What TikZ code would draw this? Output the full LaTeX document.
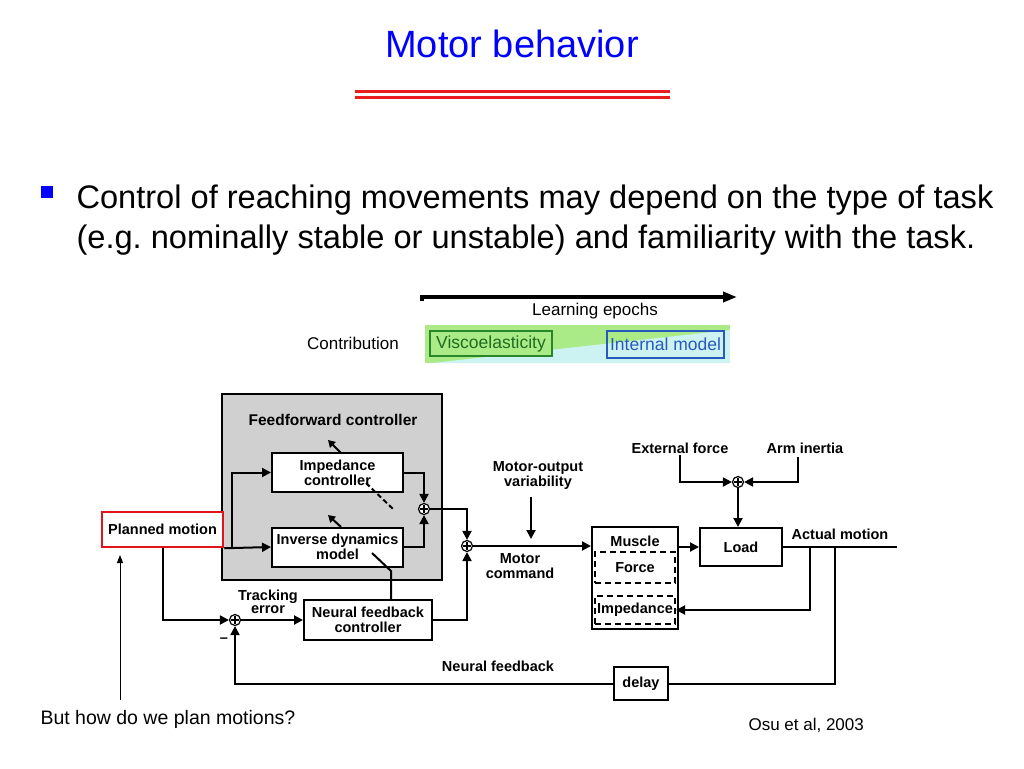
\documentclass[tikz,border=0pt]{standalone}
\usepackage{fontspec}
\setmainfont{Liberation Sans}
\usetikzlibrary{arrows.meta,positioning,calc}

\definecolor{titleblue}{RGB}{0,0,255}
\definecolor{rulered}{RGB}{230,30,30}
\definecolor{planred}{RGB}{225,20,25}
\definecolor{ffgray}{RGB}{208,208,208}
\definecolor{viscogreen}{RGB}{40,135,40}
\definecolor{intblue}{RGB}{40,90,190}
\definecolor{bargreen}{RGB}{170,235,135}
\definecolor{barcyan}{RGB}{205,242,242}

\newcommand{\diagfont}{\fontsize{14.5}{15}\selectfont\bfseries}

\tikzset{
  blk/.style={draw, line width=2, fill=white, inner sep=0, align=center, font=\diagfont},
  dashblk/.style={draw, line width=2, dash pattern=on 6pt off 4pt, inner sep=0, font=\diagfont},
  lbl/.style={font=\diagfont, align=center, inner sep=1},
  sumpt/.style={circle, draw, line width=1.2, fill=white, minimum size=11, inner sep=0,
    path picture={\draw[line width=1.2]
      ([xshift=-4pt]path picture bounding box.center) -- ([xshift=4pt]path picture bounding box.center)
      ([yshift=-4pt]path picture bounding box.center) -- ([yshift=4pt]path picture bounding box.center);}},
  wire/.style={line width=2, -{Triangle[length=9pt,width=9pt]}},
  tune/.style={line width=2, -{Triangle[length=7pt,width=8pt]}},
}

\begin{document}
\begin{tikzpicture}[x=1pt, y=-1pt]
    \useasboundingbox (0,0) rectangle (1024,768);

    % Title
    \node[anchor=base, text=titleblue, font=\fontsize{38}{40}\selectfont] (title) at (512,57) {Motor behavior};
    \draw[rulered, line width=3] (355,91) -- (670,91);
    \draw[rulered, line width=3] (355,97) -- (670,97);

    % Bullet point
    \node[fill=titleblue, minimum size=12, inner sep=0] (bullet) at (47,192) {};
    \node[anchor=base west, font=\fontsize{32.6}{40}\selectfont] (line1) at (73,208) {Control of reaching movements may depend on the type of task};
    \node[anchor=base west, font=\fontsize{32.6}{40}\selectfont] (line2) at (73,248) {(e.g.\ nominally stable or unstable) and familiarity with the task.};

    % Learning epochs
    \coordinate (epochstart) at (422,297);
    \coordinate (epochend) at (737,297);
    \draw[line width=4, -{Triangle[length=14pt,width=10pt]}] ([yshift=-4pt]epochstart) -- (epochstart) -- (epochend);
    \node[font=\fontsize{17}{18}\selectfont] (epochs) at (595,311) {Learning epochs};
    \node[font=\fontsize{17}{18}\selectfont] (contrib) at (353,343) {Contribution};
    \fill[bargreen] (425,325) rectangle (730,363);
    \fill[barcyan] (432,363) -- (730,363) -- (730,330) -- cycle;
    \node[draw=viscogreen, line width=1.5, text=viscogreen!80!black, fill=bargreen, minimum width=122, minimum height=25, inner sep=0, font=\fontsize{17.5}{18}\selectfont] (visco) at (491,343.5) {Viscoelasticity};
    \node[draw=intblue, line width=1.5, text=intblue, minimum width=117, minimum height=27, inner sep=0, font=\fontsize{17.5}{18}\selectfont] (intmodel) at (665.5,344.5) {Internal model};

    % Feedforward controller
    \node[draw, line width=2.5, fill=ffgray, minimum width=220, minimum height=186] (ffbox) at (332,487) {};
    \node[font=\fontsize{15.5}{16}\selectfont\bfseries] (fftitle) at (333,420) {Feedforward controller};
    \node[blk, minimum width=131, minimum height=39] (imp) at (337.5,472.5) {Impedance\\controller};
    \node[blk, minimum width=131, minimum height=39] (invdyn) at (337.5,547) {Inverse dynamics\\model};

    % Blocks
    \node[draw=planred, line width=2.5, fill=white, minimum width=121, minimum height=35, inner sep=0, font=\diagfont] (plan) at (162.5,529.5) {Planned motion};
    \node[blk, minimum width=128, minimum height=40] (nfb) at (368,620) {Neural feedback\\controller};
    \node[blk, minimum width=86, minimum height=102] (muscle) at (635,578) {};
    \node[font=\diagfont] (musclelbl) at (635,541) {Muscle};
    \node[dashblk, minimum width=80, minimum height=31] (force) at (635,567.5) {Force};
    \node[dashblk, minimum width=80, minimum height=28] (impd) at (635,610) {Impedance};
    \node[blk, minimum width=82, minimum height=38] (load) at (741,547) {Load};
    \node[blk, minimum width=54, minimum height=33] (delay) at (641,683.5) {delay};

    % Summing points
    \node[sumpt] (sumff) at (424,509) {};
    \node[sumpt] (summc) at (467,546) {};
    \node[sumpt] (sumtrk) at (235,620) {};
    \node[sumpt] (sumload) at (738,482) {};

    % Labels
    \node[lbl] (var) at (538,476) {Motor-output\\variability};
    \node[lbl] (mcmd) at (520,566) {Motor\\command};
    \node[lbl, font=\fontsize{14.5}{13}\selectfont\bfseries] (trk) at (268,602) {Tracking\\error};
    \node[lbl] (extf) at (680,448) {External force};
    \node[lbl] (arm) at (805,448) {Arm inertia};
    \node[lbl] (actual) at (840,534) {Actual motion};
    \node[lbl] (nfblbl) at (498,666) {Neural feedback};
    \node[lbl] (minus) at (224,640) {--};

    % Branch points
    \coordinate (brimp) at (232,547);
    \coordinate (vartop) at (531,497);
    \coordinate (varend) at (531,539);
    \coordinate (armdrop) at (798,457);
    \coordinate (out) at (897,547);
    \coordinate (tapimp) at (810,547);
    \coordinate (tapfb) at (835,547);

    % Connections
    \draw[wire] (plan.south east) -- (invdyn.west);
    \draw[wire] (brimp) |- (imp.west);
    \draw[wire] (plan.south) |- (sumtrk.west);
    \draw[wire] (sumtrk.east) -- (nfb.west);
    \draw[wire] (imp.east) -| (sumff.north);
    \draw[wire] (invdyn.east) -| (sumff.south);
    \draw[wire] (sumff.east) -| (summc.north);
    \draw[wire] (nfb.east) -| (summc.south);
    \draw[wire] (summc.east) -- (summc.east -| muscle.west);
    \draw[wire] (vartop) -- (varend);
    \draw[wire] (muscle.east |- load.west) -- (load.west);
    \draw[wire] (extf.south) |- (sumload.west);
    \draw[wire] (armdrop) |- (sumload.east);
    \draw[wire] (sumload.south) -- (sumload.south |- load.north);
    \draw[line width=2] (load.east) -- (out);
    \draw[wire] (tapimp) |- (impd.east);
    \draw[line width=2] (tapfb) |- (delay.east);
    \draw[wire] (delay.west) -| (sumtrk.south);

    % Adaptation arrows
    \coordinate (imptune) at (341,453);
    \coordinate (imptip) at (328,440);
    \coordinate (idtune) at (341,527);
    \coordinate (idtip) at (328,515);
    \draw[tune] (imptune) -- (imptip);
    \draw[tune] (idtune) -- (idtip);
    \coordinate (dasha) at (366,483);
    \coordinate (dashb) at (393,509);
    \draw[line width=2, dash pattern=on 5pt off 3pt] (dasha) -- (dashb);
    \coordinate (ida) at (372,553);
    \coordinate (idb) at (391,571);
    \draw[line width=2] (ida) -- (idb) -- (idb |- nfb.north);

    % Question
    \coordinate (qtail) at (120,700);
    \coordinate (qhead) at (120,555);
    \draw[line width=1, -{Triangle[length=8pt,width=6pt]}] (qtail) -- (qhead);
    \node[anchor=base west, font=\fontsize{19.5}{20}\selectfont] (question) at (37,724) {But how do we plan motions?};
    \node[anchor=base west, font=\fontsize{17}{18}\selectfont] (cite) at (745,730) {Osu et al, 2003};

\end{tikzpicture}
\end{document}
